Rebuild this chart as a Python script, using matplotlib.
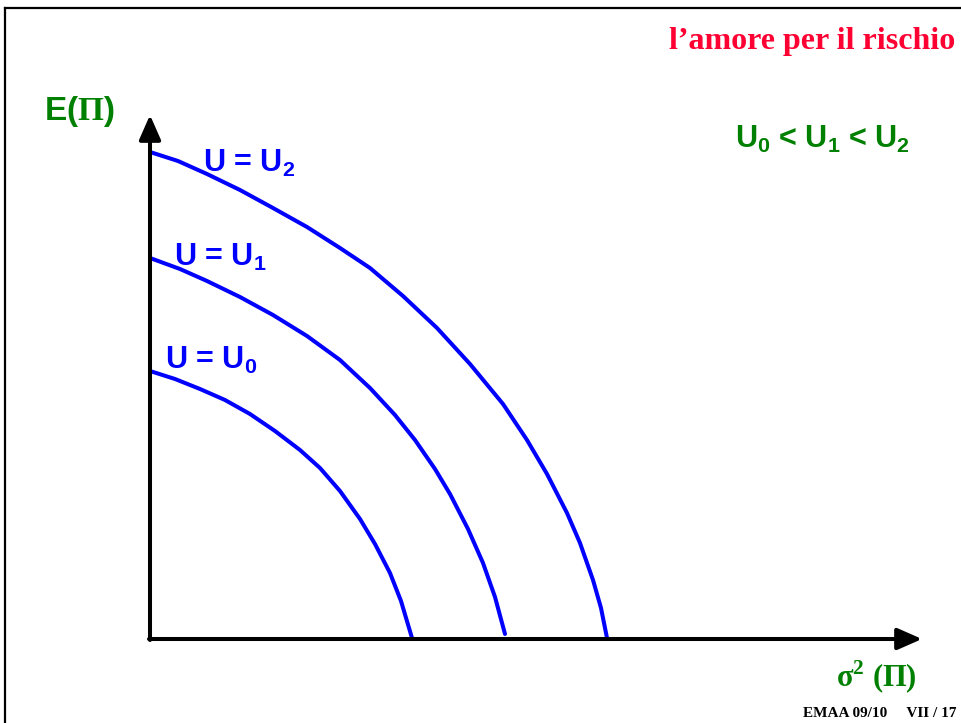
import matplotlib.pyplot as plt

# Daten (Ursprung = Achsenkreuz, Einheiten ~ Pixel)
u0_x = [0, 25, 50, 75, 100, 125, 150, 170, 190, 210, 225, 240, 251, 262]
u0_y = [268, 260, 250, 239, 225, 208, 189, 171, 148, 120, 95, 66, 38, 1]

u1_x = [0, 30, 57, 90, 123, 157, 190, 220, 245, 265, 285, 300, 318, 333, 345, 355]
u1_y = [381, 370, 358, 342, 324, 303, 279, 251, 224, 199, 170, 145, 110, 76, 42, 5]

u2_x = [0, 28, 57, 90, 123, 157, 190, 220, 253, 287, 320, 353, 377, 397, 417, 430, 443, 451, 457]
u2_y = [487, 478, 465, 449, 431, 412, 391, 371, 343, 311, 275, 235, 199, 165, 126, 96, 59, 31, 1]

curve_labels = ['U = U$_0$', 'U = U$_1$', 'U = U$_2$']

plt.rcParams.update({
    'mathtext.fontset': 'custom',
    'mathtext.default': 'bf',
    'mathtext.bf': 'Liberation Sans:bold',
    'mathtext.rm': 'Liberation Serif:bold',
    'mathtext.it': 'Liberation Serif:bold',
})

blue = '#0000FF'
green = '#008000'
red = '#FF0033'

fig = plt.figure(figsize=(9.62, 7.23), dpi=100)
ax = fig.add_axes([0, 0, 1, 1])
ax.set_xlim(-150, 812)
ax.set_ylim(-84, 639)
ax.axis('off')

# Rahmen der Folie (oben und links)
ax.plot([-145, 812], [631, 631], color='black', lw=1.6, clip_on=False)
ax.plot([-145, -145], [-84, 631], color='black', lw=1.6, clip_on=False)

# Achsen mit Pfeilen
arrow = dict(arrowstyle='-|>,head_length=0.5,head_width=0.22', lw=2.9,
             color='black', mutation_scale=30, shrinkA=0, shrinkB=0)
ax.annotate('', xy=(0, 524), xytext=(0, -1), arrowprops=arrow)
ax.annotate('', xy=(772, 0), xytext=(-1, 0), arrowprops=arrow)

# Indifferenzkurven
for xs, ys in [(u0_x, u0_y), (u1_x, u1_y), (u2_x, u2_y)]:
    ax.plot(xs, ys, color=blue, lw=2.9, solid_capstyle='round', solid_joinstyle='round')

# Kurvenbeschriftungen
ax.text(15, 270, curve_labels[0], color=blue, fontsize=22,
        family='Liberation Sans', weight='bold', va='baseline')
ax.text(24, 373, curve_labels[1], color=blue, fontsize=22,
        family='Liberation Sans', weight='bold', va='baseline')
ax.text(53, 467, curve_labels[2], color=blue, fontsize=22,
        family='Liberation Sans', weight='bold', va='baseline')

ax.text(585, 491, 'U$_0$ < U$_1$ < U$_2$', color=green, fontsize=22,
        family='Liberation Sans', weight='bold', va='baseline')

# Achsentitel
ax.text(-106, 519, r'E($\mathrm{\Pi}$)', color=green, fontsize=24,
        family='Liberation Sans', weight='bold', va='baseline')
ax.text(686, -48, r'$\mathrm{\sigma}^{\mathrm{2}}$ ($\mathrm{\Pi}$)', color=green,
        fontsize=22, family='Liberation Serif', weight='bold', va='baseline')

# Titel und Fußzeile
ax.text(805, 590, 'l\u2019amore per il rischio', color=red, fontsize=23,
        family='Liberation Serif', weight='bold', ha='right', va='baseline')
ax.text(807, -78, 'EMAA 09/10     VII / 17', color='black', fontsize=11,
        family='Liberation Serif', weight='bold', ha='right', va='baseline')

plt.savefig('out.png', dpi=100)
